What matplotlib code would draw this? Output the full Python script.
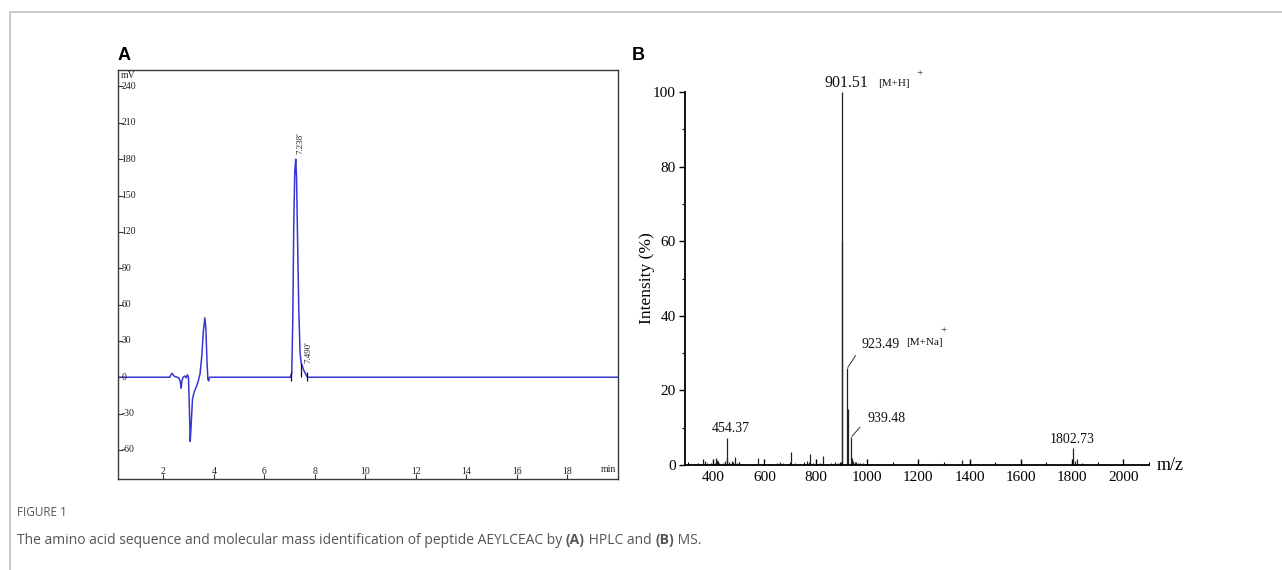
import matplotlib
matplotlib.use("Agg")
import matplotlib.pyplot as plt
import matplotlib.transforms as mtransforms
from matplotlib.lines import Line2D
from matplotlib.ticker import MultipleLocator

# ---------------- HPLC chromatogram (panel A) ----------------
hplc_time = [0.2, 2.25, 2.30, 2.34, 2.38, 2.45, 2.55, 2.62, 2.67, 2.70, 2.73, 2.78,
             2.85, 2.90, 2.95, 2.99, 3.02, 3.06, 3.10, 3.15, 3.22, 3.30, 3.38, 3.45,
             3.52, 3.58, 3.64, 3.68, 3.72, 3.76, 3.79, 3.83,
             7.02, 7.08, 7.12, 7.16, 7.20, 7.238, 7.27, 7.31, 7.36, 7.41, 7.45,
             7.49, 7.55, 7.62, 7.70, 20.0]
hplc_mv = [0, 0, 2, 3.3, 2, 0.5, 0, -1, -4, -9, -3, 0,
           1, -0.5, 2, 0, -20, -53, -38, -18, -12, -8, -3, 3,
           18, 38, 49, 40, 15, -2, -3, 0,
           0, 3, 45, 125, 170, 180, 165, 115, 55, 20, 12,
           10, 6, 3, 0, 0]
hplc_peak_times = [7.238, 7.490]
hplc_peak_labels = ["7.238'", "7.490'"]
hplc_peak_heights = [180, 10]
hplc_marker_times = [7.04, 7.44, 7.70]
hplc_marker_low = [-3, 0, -3]
hplc_marker_high = [4, 12, 4]
hplc_xticks = [2, 4, 6, 8, 10, 12, 14, 16, 18]
hplc_yticks = [-60, -30, 0, 30, 60, 90, 120, 150, 180, 210, 240]

# ---------------- Mass spectrum (panel B) ----------------
ms_label_mz = [454.37, 901.51, 923.49, 939.48, 1802.73]
ms_label_int = [7.3, 100.0, 25.9, 7.4, 4.5]
ms_minor_mz = [305, 318, 330, 342, 350, 362, 368, 375, 383, 392, 400, 406, 410,
               414, 418, 423, 430, 440, 447, 452, 460, 472, 478, 486, 493, 500,
               510, 525, 540, 556, 574, 590, 612, 630, 648, 660, 672, 688, 700,
               705, 720, 740, 755, 765, 772, 777, 790, 805, 815, 828, 845, 860,
               875, 888, 895, 902.5, 924.5, 941, 946, 952, 958, 965, 972, 985,
               995, 1010, 1040, 1370, 1810, 1820, 1838]
ms_minor_int = [0.3, 0.4, 0.3, 0.5, 0.4, 1.7, 1.0, 0.6, 0.4, 0.5, 0.3, 0.6, 1.8,
                1.4, 1.0, 0.6, 0.4, 0.5, 1.2, 2.0, 0.7, 1.0, 0.8, 2.2, 0.6, 0.9,
                0.4, 0.3, 0.4, 0.3, 1.8, 0.4, 0.3, 0.4, 0.5, 0.9, 0.5, 0.4, 0.6,
                3.4, 0.5, 0.4, 0.7, 1.1, 0.8, 3.0, 0.5, 0.4, 0.6, 2.4, 0.4, 0.5,
                0.8, 0.6, 0.9, 59.7, 15.0, 2.0, 1.0, 0.7, 0.8, 0.6, 0.5, 0.5,
                0.4, 0.3, 0.2, 1.3, 1.0, 1.5, 0.5]
ms_xticks = [400, 600, 800, 1000, 1200, 1400, 1600, 1800, 2000]
ms_yticks = [0, 20, 40, 60, 80, 100]

W, H = 1282, 570
fig = plt.figure(figsize=(W / 100, H / 100), dpi=100)
fig.patch.set_facecolor("white")


def fx(px):
    return px / W


def fy(py):
    return 1 - py / H


def shift(dx, dy):
    return mtransforms.ScaledTranslation(dx / 100, dy / 100, fig.dpi_scale_trans)


SERIF = "Liberation Serif"
SANS = "Liberation Sans"

# outer frame of the figure page
fig.add_artist(Line2D([fx(10), fx(10), 1.0], [0.0, fy(12), fy(12)],
                      transform=fig.transFigure, color="#c6c6c6", lw=1.3))

# ---------------- panel A ----------------
axA = fig.add_axes([fx(118), fy(479), (618 - 118) / W, (479 - 69.5) / H])
axA.plot(hplc_time, hplc_mv, color="#3636d2", lw=1.1)
axA.vlines(hplc_marker_times, hplc_marker_low, hplc_marker_high,
           color="#111111", lw=0.9)
axA.set_xlim(0.2, 20.0)
axA.set_ylim(-84, 254)
for sp in axA.spines.values():
    sp.set_color("#3a3a3a")
    sp.set_linewidth(1.0)
axA.set_xticks(hplc_xticks)
axA.set_yticks(hplc_yticks)
axA.set_xticklabels([])
axA.set_yticklabels([])
axA.tick_params(direction="in", length=3.5, width=0.8, color="#3a3a3a")

ytr = mtransforms.blended_transform_factory(axA.transAxes, axA.transData)
xtr = mtransforms.blended_transform_factory(axA.transData, axA.transAxes)
for v in hplc_yticks:
    axA.text(0, v, str(v), transform=ytr + shift(3.5, 0), ha="left",
             va="center", fontsize=7, family=SERIF, color="#222222")
for v in hplc_xticks:
    axA.text(v, 0, str(v), transform=xtr + shift(0, 8), ha="center",
             va="center", fontsize=7, family=SERIF, color="#222222")
axA.text(0, 1, "mV", transform=axA.transAxes + shift(2.5, -6), ha="left",
         va="center", fontsize=7, family=SERIF, color="#222222")
axA.text(1, 0, "min", transform=axA.transAxes + shift(-1.5, 10), ha="right",
         va="center", fontsize=7, family=SERIF, color="#222222")

label_dx = [0.17, 0.25]
label_dy = [4, 1.5]
for t, lab, h, dx, dy in zip(hplc_peak_times, hplc_peak_labels,
                             hplc_peak_heights, label_dx, label_dy):
    axA.text(t + dx, h + dy, lab, rotation=90, ha="center", va="bottom",
             fontsize=6.5, family=SERIF, color="#222222")

fig.text(fx(118), fy(55), "A", ha="left", va="center", fontsize=13,
         fontweight="bold", family=SANS)

# ---------------- panel B ----------------
axB = fig.add_axes([fx(685), fy(465), (1149 - 685) / W, (465 - 92) / H])
axB.vlines(ms_minor_mz, 0, ms_minor_int, color="#222222", lw=0.9)
axB.vlines(ms_label_mz, 0, ms_label_int, color="#222222", lw=0.9,
           clip_on=False)
axB.set_xlim(290, 2100)
axB.set_ylim(0, 100)
axB.spines["top"].set_visible(False)
axB.spines["right"].set_visible(False)
for k in ("left", "bottom"):
    axB.spines[k].set_linewidth(1.3)
    axB.spines[k].set_color("black")
axB.set_xticks(ms_xticks)
axB.set_yticks(ms_yticks)
axB.xaxis.set_minor_locator(MultipleLocator(100))
axB.yaxis.set_minor_locator(MultipleLocator(10))
axB.tick_params(axis="x", which="major", direction="in", length=4, width=1.0,
                pad=4)
axB.tick_params(axis="x", which="minor", direction="in", length=2.5, width=0.8)
axB.tick_params(axis="y", which="major", direction="out", length=4.5,
                width=1.0, pad=2)
axB.tick_params(axis="y", which="minor", direction="out", length=2.5,
                width=0.8)
for lbl in axB.get_xticklabels() + axB.get_yticklabels():
    lbl.set_family(SERIF)
    lbl.set_fontsize(11)
axB.set_ylabel("Intensity (%)", family=SERIF, fontsize=12.5)
axB.yaxis.set_label_coords(-0.082, 0.5)
axB.yaxis.label.set_va("center")
axB.text(1.017, 0, "m/z", transform=axB.transAxes, ha="left", va="center",
         fontsize=13, family=SERIF)

txt_kw = dict(family=SERIF, color="#111111", clip_on=False)
# value labels above peaks
axB.text(919.8, 101.3, "901.51", ha="center", va="baseline", fontsize=11.5,
         **txt_kw)
axB.text(1044, 101.5, "[M+H]", ha="left", va="baseline", fontsize=8, **txt_kw)
axB.text(1203, 105.0, "+", ha="center", va="center", fontsize=8, **txt_kw)

axB.text(980, 31.3, "923.49", ha="left", va="baseline", fontsize=10, **txt_kw)
axB.text(1153, 32.2, "[M+Na]", ha="left", va="baseline", fontsize=8, **txt_kw)
axB.text(1298, 36.0, "+", ha="center", va="center", fontsize=8, **txt_kw)
axB.plot([925.5, 955], [26.2, 29.3], color="#333333", lw=0.7)

axB.text(1000, 11.6, "939.48", ha="left", va="baseline", fontsize=10, **txt_kw)
axB.plot([941.5, 972], [7.7, 10.1], color="#333333", lw=0.7)

axB.text(469, 8.9, "454.37", ha="center", va="baseline", fontsize=10,
         **txt_kw)
axB.text(1801, 5.9, "1802.73", ha="center", va="baseline", fontsize=10,
         **txt_kw)

fig.text(fx(632), fy(55), "B", ha="left", va="center", fontsize=13,
         fontweight="bold", family=SANS)

# ---------------- caption ----------------
CAP = "Open Sans"
fig.text(fx(17), fy(512), "FIGURE 1", ha="left", va="center", fontsize=8.5,
         family=CAP, color="#555555")
caption_parts = [
    ("The amino acid sequence and molecular mass identification of peptide "
     "AEYLCEAC by ", "normal"),
    ("(A)", "bold"),
    (" HPLC and ", "normal"),
    ("(B)", "bold"),
    (" MS.", "normal"),
]
renderer = fig.canvas.get_renderer()
x_px = 17
for part, weight in caption_parts:
    t = fig.text(fx(x_px), fy(540), part, ha="left", va="center", fontsize=10,
                 family=CAP, fontweight=weight, color="#555555")
    bb = t.get_window_extent(renderer=renderer)
    x_px += bb.width

fig.savefig("out.png", dpi=100, facecolor="white")
